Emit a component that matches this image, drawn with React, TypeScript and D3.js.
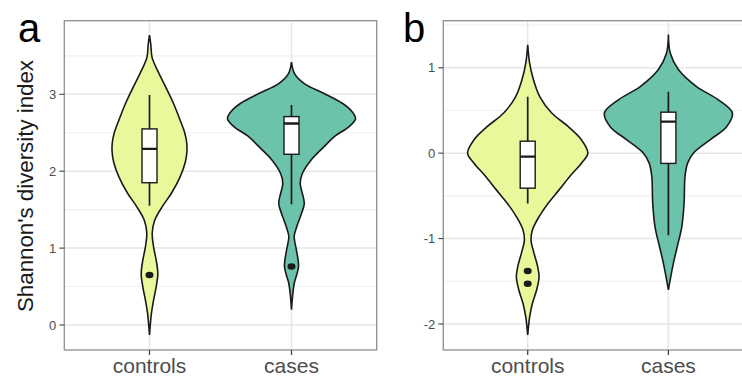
import React from 'react'
import * as d3 from 'd3'

// groups on the x axis
const groups = ['controls', 'cases']

// violin outlines: [value, relative density]
const shannonControls: [number, number][] = [
  [3.77, 0], [3.65, 0.02], [3.48, 0.04], [3.31, 0.125], [3.1, 0.25],
  [2.88, 0.375], [2.66, 0.48], [2.5, 0.55], [2.38, 0.58], [2.26, 0.585],
  [2.12, 0.56], [1.93, 0.48], [1.71, 0.34], [1.54, 0.2], [1.36, 0.08],
  [1.19, 0.042], [1.02, 0.063], [0.84, 0.105], [0.67, 0.13], [0.5, 0.105],
  [0.32, 0.063], [0.15, 0.03], [-0.13, 0]
]
const shannonCases: [number, number][] = [
  [3.42, 0], [3.27, 0.047], [3.14, 0.2], [3.01, 0.51], [2.88, 0.8],
  [2.77, 0.95], [2.68, 1.0], [2.58, 0.9], [2.45, 0.67], [2.32, 0.51],
  [2.14, 0.3], [1.97, 0.17], [1.84, 0.136], [1.71, 0.17], [1.58, 0.2],
  [1.45, 0.156], [1.28, 0.083], [1.15, 0.042], [0.97, 0.078], [0.76, 0.11],
  [0.54, 0.042], [0.37, 0.016], [0.2, 0]
]
const residControls: [number, number][] = [
  [1.27, 0], [1.055, 0.03], [0.86, 0.09], [0.66, 0.19], [0.47, 0.375],
  [0.31, 0.635], [0.156, 0.84], [0, 0.94], [-0.117, 0.84], [-0.27, 0.66],
  [-0.43, 0.49], [-0.586, 0.32], [-0.74, 0.18], [-0.9, 0.073], [-1.02, 0.052],
  [-1.17, 0.098], [-1.33, 0.156], [-1.45, 0.177], [-1.6, 0.14], [-1.76, 0.073],
  [-1.92, 0.03], [-2.13, 0]
]
const residCases: [number, number][] = [
  [1.39, 0], [1.17, 0.03], [0.98, 0.156], [0.78, 0.44], [0.625, 0.78],
  [0.47, 1.0], [0.31, 0.91], [0.156, 0.65], [0, 0.39], [-0.117, 0.3],
  [-0.27, 0.26], [-0.586, 0.245], [-0.86, 0.21], [-1.09, 0.14], [-1.29, 0.078],
  [-1.45, 0.036], [-1.6, 0]
]

// box stats: [lower whisker, q1, median, q3, upper whisker]
const shannonBoxes = [
  [1.55, 1.85, 2.29, 2.55, 2.99],
  [1.57, 2.22, 2.62, 2.71, 2.86]
]
const residBoxes = [
  [-0.59, -0.41, -0.04, 0.14, 0.66],
  [-0.96, -0.12, 0.37, 0.48, 0.72]
]
const shannonOutliers = [[0.65], [0.76]]
const residOutliers = [[-1.38, -1.53], []]

const shannonTicks = [0, 1, 2, 3]
const residTicks = [-2, -1, 0, 1]

const fills = ['#e8f99b', '#6cc3ab']
const ink = '#1a1a1a'

type PanelProps = {
  letter: string
  left: number
  right: number
  domain: [number, number]
  ticks: number[]
  violins: [number, number][][]
  boxes: number[][]
  outliers: number[][]
  letterX: number
}

function Panel({ letter, left, right, domain, ticks, violins, boxes, outliers, letterX }: PanelProps) {
  const top = 20.7, bottom = 350
  const x = d3.scalePoint<string>().domain(groups).range([left, right]).padding(0.6)
  const y = d3.scaleLinear().domain(domain).range([bottom, top])
  const w = d3.scaleLinear().domain([0, 1]).range([0, 64])
  const minor = ticks.map(t => t + 0.5).concat([ticks[0] - 0.5])
    .filter(t => t > domain[0] && t < domain[1])
  const clipId = `clip-${letter}`
  const boxHalf = 7.5

  return (
    <g>
      <clipPath id={clipId}>
        <rect x={left} y={top} width={right - left} height={bottom - top} />
      </clipPath>
      <rect x={left} y={top} width={right - left} height={bottom - top} fill='#fff' />
      <g clipPath={`url(#${clipId})`}>
        {minor.map(t => (
          <line key={'m' + t} x1={left} x2={right} y1={y(t)} y2={y(t)} stroke='#f0f0f0' strokeWidth={1.1} />
        ))}
        {ticks.map(t => (
          <line key={'M' + t} x1={left} x2={right} y1={y(t)} y2={y(t)} stroke='#e6e6e6' strokeWidth={1.5} />
        ))}
        {groups.map(g => (
          <line key={g} x1={x(g)} x2={x(g)} y1={top} y2={bottom} stroke='#e6e6e6' strokeWidth={1.5} />
        ))}
        {violins.map((v, i) => {
          const cx = x(groups[i])!
          const area = d3.area<[number, number]>()
            .y(d => y(d[0]))
            .x0(d => cx - w(d[1]))
            .x1(d => cx + w(d[1]))
            .curve(d3.curveCatmullRom)
          return <path key={i} d={area(v)!} fill={fills[i]} stroke={ink} strokeWidth={1.6} />
        })}
        {boxes.map((b, i) => {
          const cx = x(groups[i])!
          return (
            <g key={i}>
              <line x1={cx} x2={cx} y1={y(b[0])} y2={y(b[4])} stroke={ink} strokeWidth={1.7} />
              <rect x={cx - boxHalf} y={y(b[3])} width={boxHalf * 2} height={y(b[1]) - y(b[3])}
                fill='#fff' stroke={ink} strokeWidth={1.4} />
              <line x1={cx - boxHalf} x2={cx + boxHalf} y1={y(b[2])} y2={y(b[2])} stroke={ink} strokeWidth={2.3} />
            </g>
          )
        })}
        {outliers.map((o, i) => o.map(v => (
          <ellipse key={i + '-' + v} cx={x(groups[i])} cy={y(v)} rx={4} ry={3.3} fill={ink} />
        )))}
      </g>
      <rect x={left} y={top} width={right - left} height={bottom - top} fill='none' stroke='#8f8f8f' strokeWidth={1.3} />
      {ticks.map(t => (
        <g key={t} transform={`translate(${left},${y(t)})`}>
          <line x1={-5} x2={0} stroke='#444' strokeWidth={1.1} />
          <text x={-8} dy='0.35em' textAnchor='end' fontSize={13} fill='#4d4d4d'
            fontFamily='Liberation Sans, Arial, sans-serif'>{t}</text>
        </g>
      ))}
      {groups.map(g => (
        <g key={g} transform={`translate(${x(g)},${bottom})`}>
          <line y1={0} y2={5} stroke='#444' strokeWidth={1.3} />
          <text y={23} textAnchor='middle' fontSize={21} fill='#4d4d4d'
            fontFamily='Liberation Sans, Arial, sans-serif'>{g}</text>
        </g>
      ))}
      <text x={letterX} y={42} fontSize={40} fill='#000' fontFamily='Liberation Sans, Arial, sans-serif'>{letter}</text>
    </g>
  )
}

export default function App() {
  return (
    <svg width={742} height={376} style={{ position: 'absolute', left: 0, top: 0 }}>
      <rect width={742} height={376} fill='#fff' />
      <Panel letter='a' left={64.3} right={376.7} domain={[-0.325, 3.957]} ticks={shannonTicks}
        violins={[shannonControls, shannonCases]} boxes={shannonBoxes} outliers={shannonOutliers} letterX={18} />
      <Panel letter='b' left={443.3} right={752.8} domain={[-2.305, 1.551]} ticks={residTicks}
        violins={[residControls, residCases]} boxes={residBoxes} outliers={residOutliers} letterX={403} />
      <text transform='translate(33,186) rotate(-90)' textAnchor='middle' fontSize={22.5} fill='#1a1a1a'
        textLength={252} lengthAdjust='spacingAndGlyphs'
        fontFamily='Liberation Sans, Arial, sans-serif'>Shannon's diversity index</text>
    </svg>
  )
}
